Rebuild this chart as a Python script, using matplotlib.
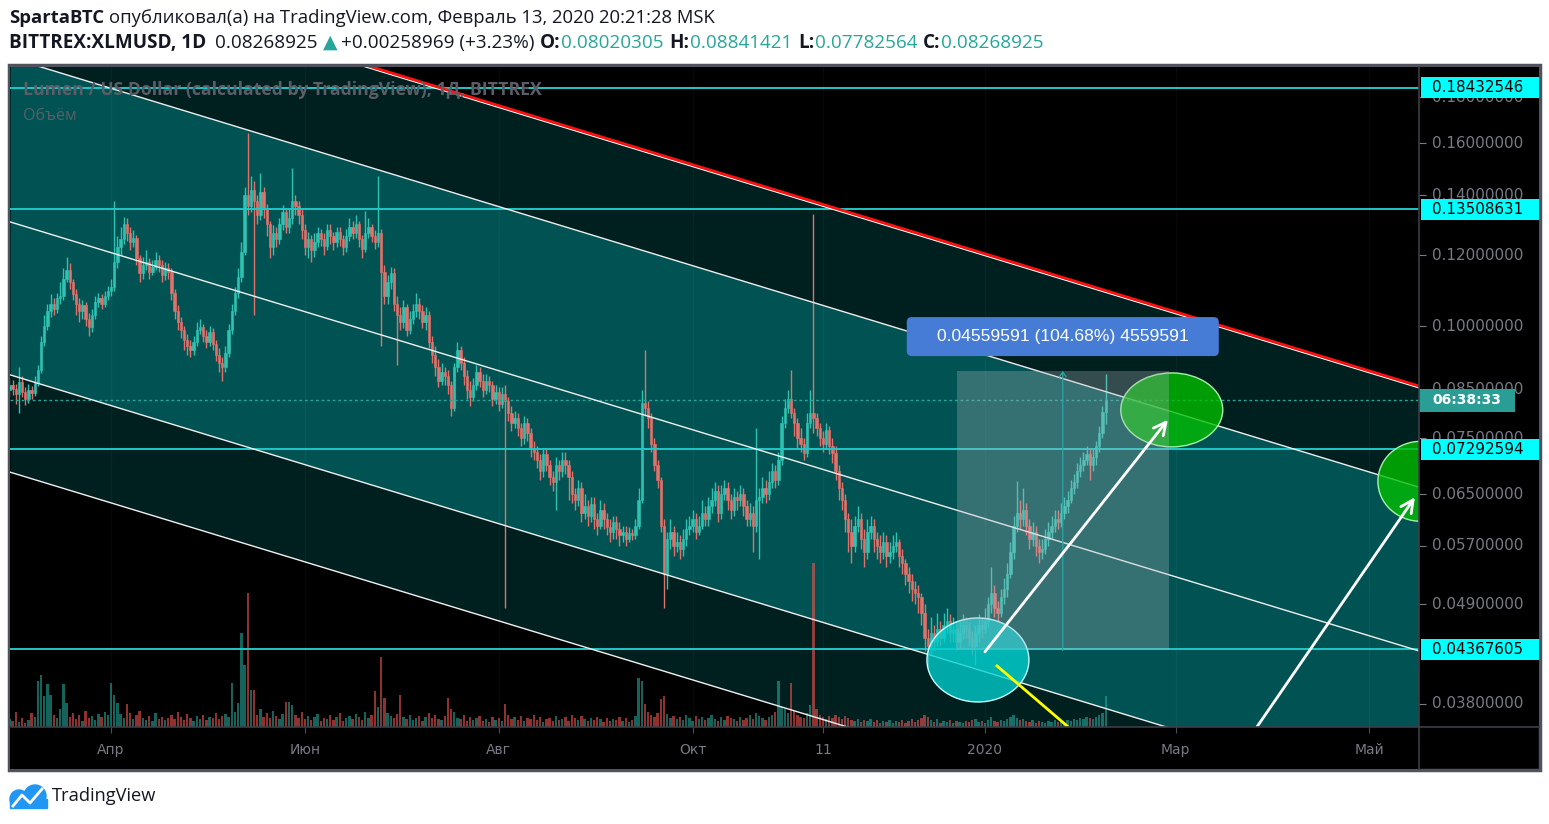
import numpy as np
import matplotlib
matplotlib.use('Agg')
import matplotlib.pyplot as plt
from matplotlib.patches import Rectangle, Ellipse, FancyBboxPatch, Circle
from matplotlib.collections import PatchCollection
from matplotlib.lines import Line2D
import matplotlib.transforms as mtrans
from matplotlib.ticker import NullLocator, FixedLocator

plt.rcParams['font.family'] = ['Open Sans', 'DejaVu Sans']

W, H, DPI = 1549, 824, 100

# дневные свечи XLMUSD (день 0 = 01.01.2020)
first_day = -307
first_open = 0.0850
closes = [
    .0860, .0852, .0840, .0868, .0845, .0830, .0850, .0842, .0865, .0895,
    .0960, .1000, .1040, .1060, .1045, .1075, .1080, .1130, .1155, .1120,
    .1085, .1060, .1040, .1055, .1020, .0998, .1030, .1065, .1075, .1060,
    .1080, .1095, .1106, .1180, .1226, .1250, .1300, .1270, .1240, .1255,
    .1190, .1146, .1170, .1180, .1150, .1165, .1185, .1170, .1140, .1160,
    .1150, .1090, .1040, .1010, .0990, .0965, .0950, .0941, .0960, .0990,
    .0998, .0975, .0960, .0985, .0955, .0930, .0910, .0900, .0935, .0990,
    .1040, .1090, .1135, .1210, .1400, .1360, .1420, .1380, .1330, .1410,
    .1350, .1300, .1226, .1270, .1250, .1300, .1340, .1290, .1320, .1380,
    .1360, .1330, .1280, .1225, .1250, .1216, .1240, .1270, .1250, .1230,
    .1280, .1260, .1240, .1275, .1250, .1225, .1260, .1290, .1270, .1300,
    .1250, .1220, .1270, .1290, .1260, .1240, .1270, .1150, .1080, .1120,
    .1145, .1060, .1030, .1010, .1050, .0990, .1020, .1040, .1060, .1040,
    .1010, .1030, .0960, .0930, .0900, .0870, .0890, .0880, .0860, .0810,
    .0900, .0940, .0910, .0880, .0850, .0835, .0860, .0890, .0870, .0850,
    .0870, .0860, .0830, .0845, .0820, .0840, .0825, .0800, .0780, .0790,
    .0770, .0750, .0780, .0760, .0730, .0725, .0710, .0690, .0720, .0700,
    .0680, .0670, .0700, .0690, .0710, .0700, .0680, .0650, .0640, .0660,
    .0620, .0630, .0615, .0634, .0610, .0600, .0625, .0610, .0598, .0590,
    .0605, .0595, .0585, .0590, .0580, .0588, .0585, .0600, .0640, .0822,
    .0810, .0790, .0740, .0700, .0675, .0600, .0530, .0580, .0590, .0570,
    .0575, .0565, .0580, .0595, .0600, .0610, .0590, .0600, .0620, .0610,
    .0630, .0640, .0655, .0620, .0650, .0660, .0640, .0625, .0645, .0640,
    .0650, .0630, .0610, .0620, .0600, .0640, .0645, .0660, .0650, .0670,
    .0690, .0675, .0710, .0780, .0810, .0830, .0800, .0780, .0750, .0740,
    .0722, .0780, .0800, .0790, .0770, .0750, .0740, .0766, .0735, .0722,
    .0690, .0660, .0640, .0610, .0590, .0570, .0600, .0610, .0580, .0560,
    .0590, .0600, .0580, .0570, .0560, .0575, .0555, .0560, .0570, .0575,
    .0555, .0545, .0530, .0520, .0510, .0505, .0500, .0480, .0450, .0440,
    .0455, .0445, .0460, .0450, .0465, .0470, .0455, .0460, .0445, .0455,
    .0465, .0460, .0450, .0440, .0455, .0465, .0460, .0470, .0490, .0505,
    .0485, .0480, .0500, .0510, .0530, .0560, .0600, .0620, .0610, .0625,
    .0600, .0580, .0590, .0570, .0560, .0565, .0580, .0590, .0600, .0610,
    .0605, .0620, .0630, .0640, .0660, .0670, .0690, .0700, .0710, .0720,
    .0700, .0715, .0735, .0760, .0802, .0827,
]
highs = [
    .0875, .0872, .0862, .0900, .0880, .0855, .0862, .0858, .0880, .0905,
    .0975, .1030, .1060, .1085, .1075, .1090, .1120, .1160, .1195, .1175,
    .1130, .1100, .1075, .1070, .1065, .1035, .1045, .1080, .1090, .1085,
    .1095, .1110, .1130, .1380, .1260, .1290, .1325, .1320, .1290, .1280,
    .1265, .1200, .1195, .1215, .1190, .1185, .1210, .1200, .1185, .1180,
    .1175, .1160, .1100, .1055, .1025, .1000, .0980, .0965, .0975, .1010,
    .1020, .1005, .0990, .1000, .0995, .0965, .0945, .0925, .0950, .1005,
    .1060, .1105, .1160, .1240, .1430, .1640, .1470, .1450, .1400, .1480,
    .1430, .1370, .1310, .1295, .1290, .1320, .1365, .1355, .1350, .1500,
    .1400, .1380, .1350, .1300, .1275, .1265, .1270, .1290, .1285, .1270,
    .1300, .1300, .1275, .1290, .1290, .1265, .1285, .1320, .1310, .1330,
    .1310, .1265, .1345, .1320, .1300, .1280, .1470, .1285, .1170, .1140,
    .1165, .1160, .1080, .1050, .1070, .1060, .1040, .1060, .1090, .1075,
    .1055, .1050, .1040, .0975, .0950, .0920, .0910, .0900, .0895, .0870,
    .0910, .0960, .0950, .0925, .0895, .0870, .0875, .0905, .0900, .0885,
    .0885, .0880, .0870, .0860, .0855, .0855, .0860, .0835, .0815, .0805,
    .0800, .0780, .0795, .0790, .0770, .0745, .0735, .0720, .0730, .0730,
    .0710, .0690, .0715, .0710, .0725, .0725, .0710, .0690, .0660, .0675,
    .0670, .0650, .0640, .0645, .0645, .0620, .0640, .0635, .0620, .0610,
    .0615, .0615, .0605, .0600, .0600, .0598, .0595, .0610, .0660, .0850,
    .0940, .0825, .0800, .0750, .0710, .0680, .0610, .0590, .0610, .0600,
    .0590, .0585, .0595, .0610, .0615, .0625, .0620, .0615, .0640, .0630,
    .0645, .0660, .0670, .0665, .0665, .0675, .0670, .0650, .0660, .0655,
    .0665, .0660, .0640, .0635, .0630, .0770, .0660, .0680, .0675, .0690,
    .0705, .0700, .0725, .0795, .0830, .0850, .0895, .0810, .0790, .0770,
    .0750, .0800, .0850, .1335, .0800, .0780, .0765, .0780, .0775, .0750,
    .0735, .0700, .0670, .0650, .0620, .0610, .0615, .0630, .0620, .0595,
    .0610, .0615, .0610, .0590, .0585, .0590, .0585, .0575, .0585, .0590,
    .0580, .0565, .0550, .0540, .0530, .0520, .0515, .0505, .0490, .0460,
    .0475, .0465, .0480, .0470, .0480, .0485, .0478, .0475, .0468, .0470,
    .0478, .0475, .0468, .0458, .0465, .0478, .0475, .0485, .0500, .0540,
    .0515, .0495, .0510, .0525, .0545, .0575, .0615, .0672, .0640, .0660,
    .0635, .0610, .0605, .0600, .0580, .0580, .0595, .0605, .0615, .0625,
    .0625, .0635, .0645, .0655, .0675, .0685, .0705, .0715, .0725, .0735,
    .0730, .0730, .0745, .0775, .0815, .0884,
]
lows = [
    .0835, .0838, .0820, .0800, .0835, .0818, .0822, .0830, .0836, .0858,
    .0888, .0950, .0990, .1025, .1030, .1035, .1060, .1070, .1120, .1100,
    .1070, .1030, .1010, .1020, .1000, .0975, .0985, .1020, .1050, .1045,
    .1050, .1070, .1080, .1095, .1160, .1200, .1235, .1245, .1215, .1225,
    .1170, .1120, .1130, .1155, .1130, .1140, .1155, .1150, .1120, .1125,
    .1130, .1070, .1020, .0990, .0970, .0940, .0930, .0925, .0930, .0950,
    .0980, .0960, .0945, .0950, .0940, .0915, .0890, .0870, .0890, .0925,
    .0980, .1030, .1075, .1120, .1200, .1330, .1340, .1030, .1300, .1315,
    .1320, .1260, .1190, .1200, .1225, .1235, .1280, .1270, .1270, .1300,
    .1330, .1300, .1250, .1200, .1190, .1180, .1195, .1225, .1230, .1200,
    .1215, .1235, .1215, .1225, .1230, .1200, .1210, .1245, .1250, .1255,
    .1225, .1190, .1210, .1255, .1240, .1220, .1225, .0950, .1060, .1060,
    .1100, .1040, .0905, .0990, .0995, .0975, .0980, .1005, .1025, .1020,
    .0995, .0990, .0945, .0910, .0880, .0855, .0860, .0860, .0840, .0795,
    .0805, .0890, .0895, .0860, .0830, .0815, .0825, .0850, .0855, .0835,
    .0840, .0845, .0815, .0820, .0805, .0810, .0485, .0785, .0765, .0770,
    .0755, .0735, .0740, .0745, .0715, .0710, .0695, .0675, .0680, .0690,
    .0665, .0655, .0625, .0675, .0680, .0685, .0640, .0635, .0625, .0630,
    .0605, .0610, .0600, .0605, .0595, .0585, .0595, .0595, .0585, .0575,
    .0580, .0580, .0570, .0575, .0570, .0575, .0578, .0580, .0595, .0635,
    .0795, .0770, .0725, .0690, .0660, .0590, .0486, .0510, .0565, .0555,
    .0560, .0550, .0555, .0570, .0585, .0590, .0580, .0585, .0595, .0600,
    .0600, .0620, .0630, .0605, .0610, .0640, .0625, .0610, .0615, .0625,
    .0630, .0615, .0600, .0600, .0560, .0590, .0550, .0635, .0635, .0640,
    .0660, .0660, .0665, .0700, .0770, .0800, .0790, .0755, .0730, .0725,
    .0710, .0715, .0770, .0760, .0755, .0735, .0725, .0730, .0720, .0705,
    .0675, .0640, .0625, .0590, .0560, .0545, .0560, .0590, .0565, .0540,
    .0550, .0580, .0560, .0550, .0545, .0550, .0540, .0545, .0550, .0560,
    .0540, .0530, .0515, .0505, .0495, .0490, .0480, .0465, .0435, .0415,
    .0430, .0435, .0440, .0440, .0445, .0455, .0445, .0445, .0435, .0438,
    .0448, .0450, .0440, .0430, .0420, .0445, .0450, .0455, .0462, .0480,
    .0475, .0470, .0475, .0490, .0500, .0525, .0550, .0590, .0595, .0600,
    .0585, .0565, .0570, .0555, .0545, .0550, .0558, .0570, .0580, .0590,
    .0595, .0598, .0610, .0620, .0635, .0650, .0660, .0680, .0690, .0700,
    .0675, .0690, .0700, .0725, .0750, .0778,
]
# объём (условные единицы)
volumes = [
    8, 6, 15, 5, 9, 4, 7, 14, 10, 46,
    52, 31, 43, 32, 12, 9, 18, 43, 24, 10,
    14, 8, 12, 6, 16, 9, 11, 7, 13, 10,
    15, 12, 44, 32, 24, 13, 9, 23, 14, 8,
    12, 16, 9, 7, 11, 6, 14, 8, 10, 7,
    9, 12, 8, 15, 10, 7, 13, 9, 6, 11,
    8, 12, 7, 10, 9, 14, 8, 11, 13, 10,
    44, 15, 24, 94, 62, 134, 37, 37, 12, 18,
    10, 14, 9, 16, 11, 8, 13, 25, 25, 22,
    12, 9, 15, 8, 11, 7, 10, 13, 6, 9,
    8, 12, 7, 10, 14, 6, 9, 11, 8, 13,
    10, 7, 15, 9, 12, 36, 20, 70, 29, 14,
    11, 9, 13, 32, 10, 8, 12, 7, 9, 11,
    6, 10, 14, 9, 12, 8, 7, 11, 29, 18,
    15, 9, 8, 12, 6, 10, 7, 9, 11, 6,
    8, 5, 10, 7, 9, 6, 23, 12, 8, 10,
    7, 11, 6, 9, 8, 12, 7, 10, 5, 8,
    9, 6, 11, 7, 8, 10, 6, 12, 9, 7,
    11, 8, 6, 9, 7, 10, 8, 5, 9, 6,
    8, 7, 10, 6, 9, 5, 7, 11, 49, 46,
    23, 15, 12, 10, 14, 28, 31, 13, 9, 11,
    8, 10, 7, 12, 9, 6, 11, 8, 10, 7,
    9, 12, 8, 6, 10, 7, 11, 9, 8, 6,
    10, 7, 9, 12, 8, 14, 11, 9, 7, 10,
    12, 15, 46, 20, 18, 14, 44, 16, 12, 10,
    9, 14, 22, 164, 18, 12, 10, 8, 11, 9,
    12, 10, 8, 11, 9, 7, 6, 8, 5, 7,
    6, 8, 5, 7, 4, 6, 5, 7, 4, 6,
    5, 7, 4, 6, 8, 5, 7, 9, 12, 10,
    7, 5, 8, 4, 6, 5, 7, 4, 6, 5,
    4, 6, 5, 7, 8, 5, 6, 4, 7, 10,
    6, 5, 7, 6, 8, 10, 12, 9, 7, 8,
    6, 5, 7, 4, 6, 5, 4, 6, 5, 7,
    5, 6, 4, 7, 6, 8, 7, 9, 8, 10,
    9, 8, 10, 12, 14, 31,
]

# оси
x_range = (-306.8, 136.6)
y_range = (0.03579, 0.19443)
time_ticks = [-275, -214, -153, -92, -51, 0, 60, 121]
time_labels = ['Апр', 'Июн', 'Авг', 'Окт', '11', '2020', 'Мар', 'Май']
price_ticks = [0.18, 0.16, 0.14, 0.12, 0.10, 0.085, 0.075, 0.065, 0.057, 0.049, 0.038]
levels = [0.18432546, 0.13508631, 0.07292594, 0.04367605]
last_price = 0.08268925

# рисунки: точки (день, цена)
red_line = [(-306.8, 0.2568), (136.6, 0.0854)]
channel = [
    [(-306.8, 0.1992), (136.6, 0.0662)],
    [(-306.8, 0.1307), (136.6, 0.04350)],
    [(-306.8, 0.0883), (136.6, 0.02938)],
    [(-306.8, 0.0688), (136.6, 0.02291)],
]
arrow_up1 = [(0.0, 0.04339), (57.6, 0.0787)]
arrow_up2 = [(85.6, 0.03580), (135.3, 0.0645)]
yellow_line = [(3.8, 0.04186), (29.9, 0.03489)]
measure_days = (-8.8, 57.9)
measure_prices = (0.043557, 0.089153)
measure_mid = 24.5
measure_text = '0.04559591 (104.68%) 4559591'

UP, DOWN = '#2fc2b2', '#e2716b'
TEAL, DARK = '#005352', '#001f1f'

fig = plt.figure(figsize=(W / DPI, H / DPI), dpi=DPI)
fig.patch.set_facecolor('white')
R = fig.canvas.get_renderer()


def box(x0, y0, x1, y1):
    return [x0 / W, 1 - y1 / H, (x1 - x0) / W, (y1 - y0) / H]


fig.add_artist(Rectangle((9 / W, 1 - 770 / H), 1531 / W, 705 / H, transform=fig.transFigure,
                         facecolor='black', edgecolor='#50535e', lw=2.5, zorder=-5))

ax = fig.add_axes(box(10, 67, 1419, 727))
pax = fig.add_axes(box(1419, 67, 1539, 727))
tax = fig.add_axes(box(10, 727, 1419, 769))

for a in (ax, pax, tax):
    a.set_facecolor('black')
    for s in a.spines.values():
        s.set_visible(False)

ax.set_yscale('log')
pax.set_yscale('log')
for a in (ax, tax):
    a.set_xlim(*x_range)
for a in (ax, pax):
    a.set_ylim(*y_range)
ax.tick_params(which='both', length=0, labelleft=False, labelbottom=False)
ax.yaxis.set_minor_locator(NullLocator())
ax.yaxis.set_major_locator(NullLocator())
ax.xaxis.set_major_locator(NullLocator())


def line_y(pts, xs):
    return np.exp(np.interp(xs, [pts[0][0], pts[1][0]], np.log([pts[0][1], pts[1][1]])))


xs = np.array(x_range)
ax.fill_between(xs, line_y(channel[0], xs), line_y(red_line, xs), color=DARK, lw=0, zorder=0.5)
ax.fill_between(xs, line_y(channel[2], xs), line_y(channel[0], xs), color=TEAL, lw=0, zorder=0.5)
ax.fill_between(xs, line_y(channel[3], xs), line_y(channel[2], xs), color=DARK, lw=0, zorder=0.5)

for d in time_ticks:
    ax.axvline(d, color='white', alpha=0.035, lw=1, zorder=0.6)

# объём
days = np.arange(len(closes)) + first_day
c = np.array(closes)
o = np.array([first_open] + closes[:-1])
up = c >= o
vcol = np.where(up, '#26a69a', '#ef5350')
rects = [Rectangle((d - 0.37, 0), 0.74, v / 660) for d, v in zip(days, volumes)]
pc = PatchCollection(rects, facecolors=vcol, edgecolors='none', alpha=0.6,
                     transform=ax.get_xaxis_transform(), zorder=2.5)
ax.add_collection(pc, autolim=False)

# свечи
col = np.where(up, UP, DOWN)
ax.vlines(days, lows, highs, colors=col, lw=1.0, zorder=3)
ax.bar(days, np.abs(c - o), bottom=np.minimum(c, o), width=0.74, color=col,
       edgecolor=col, linewidth=0.4, zorder=3.1)

# уровни
for lv in levels:
    ax.axhline(lv, color='#1fc8c8', lw=1.4, zorder=4)
ax.axhline(last_price, color='#26a69a', lw=1, ls=(0, (2, 2)), zorder=4)

for pts in channel:
    ax.plot([pts[0][0], pts[1][0]], [pts[0][1], pts[1][1]], color='#f0f0f0', lw=1.0, zorder=4.2)
ax.plot([p[0] for p in red_line], [p[1] for p in red_line], color='white', lw=1.0, zorder=4.2)
ax.plot([p[0] for p in red_line], [p[1] for p in red_line], color='#ff1010', lw=2.0, zorder=4.3,
        transform=ax.transData + mtrans.ScaledTranslation(0, 1.8 / DPI, fig.dpi_scale_trans))

ax.set_xlim(*x_range)
ax.set_ylim(*y_range)


def at_px(axis, x, y):
    px, py = axis.transData.transform((x, y))
    return mtrans.Affine2D().translate(px, py)


# эллипсы
for (d, p), w, h, fc, ec in [((58.8, 0.0807), 102, 74, '#00c000', '#a8f0a8'),
                             ((137.2, 0.0672), 86, 80, '#00c000', '#a8f0a8'),
                             ((-2.2, 0.04250), 102, 84, '#00d0d0', '#c0ffff')]:
    ax.add_patch(Ellipse((0, 0), w, h, transform=at_px(ax, d, p), facecolor=fc, alpha=0.78,
                         edgecolor='none', zorder=4.5))
    ax.add_patch(Ellipse((0, 0), w, h, transform=at_px(ax, d, p), facecolor='none',
                         edgecolor=ec, lw=1, zorder=4.6))

# измерение
ax.add_patch(Rectangle((measure_days[0], measure_prices[0]), measure_days[1] - measure_days[0],
                       measure_prices[1] - measure_prices[0], facecolor='#b2b5be', alpha=0.3,
                       lw=0, zorder=5))
ax.annotate('', xy=(measure_mid, measure_prices[1]), xytext=(measure_mid, measure_prices[0]),
            arrowprops=dict(arrowstyle='->,head_length=0.35,head_width=0.25', color='#2aa8a3',
                            lw=0.9, shrinkA=0, shrinkB=0), zorder=5.1)

for (s, e) in (arrow_up1, arrow_up2):
    ax.annotate('', xy=e, xytext=s,
                arrowprops=dict(arrowstyle='->,head_length=0.9,head_width=0.45', color='white',
                                lw=2, shrinkA=0, shrinkB=0), zorder=6)
ax.plot([p[0] for p in yellow_line], [p[1] for p in yellow_line], color='#ffff00', lw=2, zorder=6)

lab_tr = at_px(ax, measure_mid, 0.0974)
ax.add_patch(FancyBboxPatch((-156, -19.5), 312, 39, boxstyle='round,pad=0,rounding_size=5',
                            transform=lab_tr, facecolor='#477cd6', edgecolor='none', zorder=7,
                            clip_on=False))
mt = ax.text(0, 0, measure_text, transform=lab_tr, ha='center', va='center', color='white',
             fontsize=12.6, family=['Liberation Sans', 'DejaVu Sans'], zorder=8)

# шкала цен
pax.yaxis.set_minor_locator(NullLocator())
pax.yaxis.set_major_locator(FixedLocator(price_ticks))
pax.tick_params(axis='y', which='major', left=True, direction='in', length=5, color='#787b86',
                labelleft=False)
pax.tick_params(axis='x', which='both', length=0, labelbottom=False)
ytr = pax.get_yaxis_transform()
for p in price_ticks:
    pax.text(13 / 120, p, f'{p:.8f}', transform=ytr, va='center', ha='left', color='#787b86',
             fontsize=10.9, family='DejaVu Sans', zorder=2)
for lv in levels:
    px, py = ytr.transform((0, lv))
    tr = mtrans.Affine2D().translate(px, py)
    pax.add_patch(Rectangle((2, -10.5), 118, 21, transform=tr, facecolor='#00ffff',
                            edgecolor='none', zorder=3, clip_on=False))
    pax.text(13 / 120, lv, f'{lv:.8f}', transform=ytr, va='center', ha='left', color='black',
             fontsize=10.9, family='DejaVu Sans', zorder=4)
px, py = ytr.transform((0, last_price))
pax.add_patch(Rectangle((0, -11.5), 96, 23, transform=mtrans.Affine2D().translate(px, py),
                        facecolor='#2a9d95', edgecolor='none', zorder=3, clip_on=False))
pax.text(13 / 120, last_price, '06:38:33', transform=ytr, va='center', ha='left', color='white',
         fontsize=10, fontweight='bold', family='DejaVu Sans', zorder=4)

# шкала времени
tax.xaxis.set_major_locator(FixedLocator(time_ticks))
tax.tick_params(axis='x', top=True, bottom=False, direction='in', length=4, color='#4a4d56',
                labelbottom=False)
tax.tick_params(axis='y', which='both', length=0, labelleft=False)
for d, t in zip(time_ticks, time_labels):
    tax.text(d, 0.45, t, transform=tax.get_xaxis_transform(), ha='center', va='center',
             color='#787b86', fontsize=10, family='DejaVu Sans')

# разделители
fig.add_artist(Line2D([1419 / W, 1419 / W], [1 - 67 / H, 1 - 769 / H], color='#3b3e48', lw=1.2))
fig.add_artist(Line2D([10 / W, 1539 / W], [1 - 727 / H, 1 - 727 / H], color='#3b3e48', lw=1.2))


def run(pieces, x0, y, size):
    arts, x = [], x0
    for txt, color, bold, gap in pieces:
        x += gap
        t = fig.text(x / W, 1 - y / H, txt, color=color, fontsize=size,
                     fontweight='bold' if bold else 'normal', va='center', ha='left')
        x += t.get_window_extent(renderer=R).width
        arts.append(t)
    return arts, x


def fit_run(pieces, x0, y, x1, size):
    arts, xe = run(pieces, x0, y, size)
    for a in arts:
        a.remove()
    gaps = sum(p[3] for p in pieces)
    run(pieces, x0, y, size * (x1 - x0 - gaps) / (xe - x0 - gaps))


INK, GREEN = '#131722', '#26a69a'
fit_run([('SpartaBTC', INK, True, 0),
         ('опубликовал(а) на TradingView.com, Февраль 13, 2020 20:21:28 MSK', INK, False, 5)],
        9, 18, 715, 12.5)
fit_run([('BITTREX:XLMUSD, 1D', INK, True, 0), ('0.08268925', INK, False, 9),
         ('▲', GREEN, False, 5), ('+0.00258969 (+3.23%)', INK, False, 4),
         ('O:', INK, True, 5), ('0.08020305', GREEN, False, 1),
         ('H:', INK, True, 5), ('0.08841421', GREEN, False, 1),
         ('L:', INK, True, 6), ('0.07782564', GREEN, False, 1),
         ('C:', INK, True, 5), ('0.08268925', GREEN, False, 1)],
        9, 43, 1045, 12.5)
fit_run([('Lumen / US Dollar (calculated by TradingView), 1Д, BITTREX', '#5b5e68', True, 0)],
        23, 90, 543, 11.5)
run([('Объём', '#5b5e68', False, 0)], 23, 116, 11.5)

# логотип
logo = '#2196f3'
fig.add_artist(Circle((19, H - 799), 9, transform=mtrans.IdentityTransform(), color=logo))
fig.add_artist(Circle((35, H - 796), 11, transform=mtrans.IdentityTransform(), color=logo))
fig.add_artist(Rectangle((10, H - 808), 37, 9, transform=mtrans.IdentityTransform(), color=logo))
fig.add_artist(Line2D([13, 22, 30, 42], [H - 806, H - 795, H - 803, H - 789],
                      transform=mtrans.IdentityTransform(), color='white', lw=2))
fit_run([('TradingView', INK, False, 0)], 52, 796, 157, 12.5)

fig.savefig('out.png', dpi=DPI, facecolor='white')
